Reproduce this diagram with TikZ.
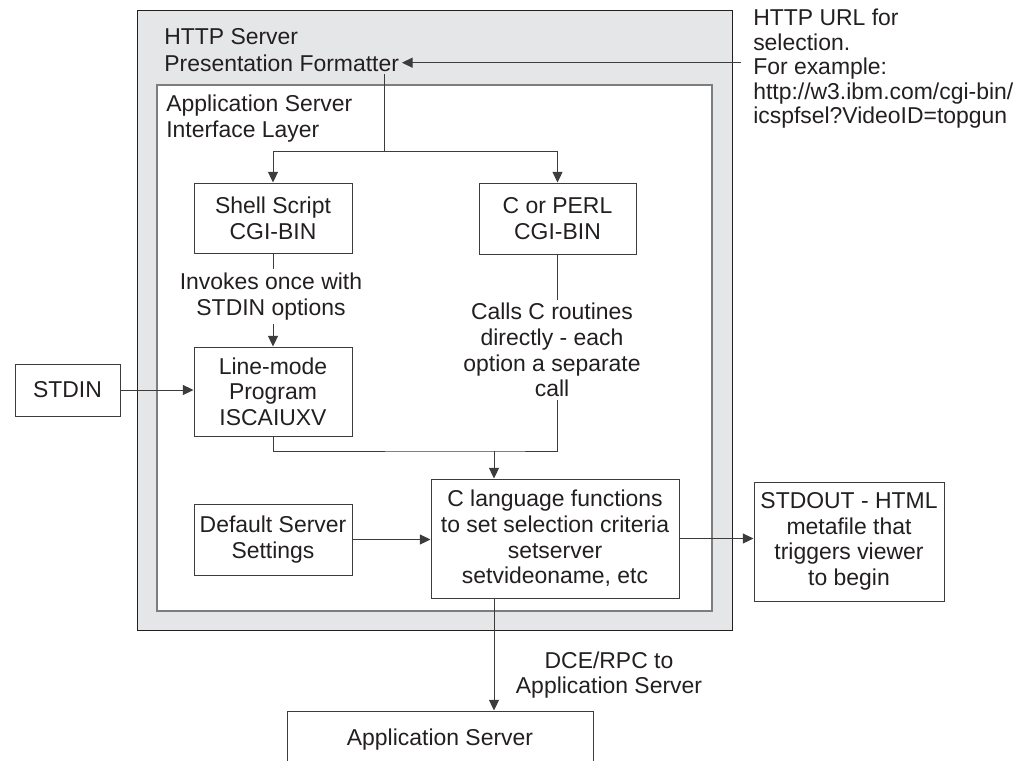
\documentclass[tikz,border=0pt]{standalone}
\usepackage{fontspec}
\setmainfont{Liberation Sans}
\usetikzlibrary{arrows.meta}

\definecolor{panelgray}{RGB}{229,230,231}
\definecolor{inkdark}{RGB}{35,31,32}
\definecolor{framegray}{RGB}{125,125,125}
\definecolor{linegray}{RGB}{60,60,60}

\tikzset{
  every node/.style={font=\fontsize{17.2}{19.2}\selectfont, text=inkdark},
  box/.style={draw=linegray, line width=0.75pt, fill=white, align=center, inner sep=2pt},
  lbl/.style={align=center, inner sep=2.5pt},
  conn/.style={draw=linegray, line width=0.75pt},
  arr/.style={conn, -{Triangle[length=8pt,width=7.5pt]}},
}

\begin{document}
\begin{tikzpicture}[x=0.75pt,y=0.75pt,yscale=-1,xscale=1]
\clip (0,0) rectangle (1027,760);

%Shape: outer server panel
\draw [draw=inkdark, line width=0.65pt, fill=panelgray] (137,10) rectangle (732,630);
%Shape: interface layer panel
\draw [draw=framegray, line width=1.1pt, fill=white] (157,85) rectangle (712,611);

% Text Node
\node [anchor=base west, inner sep=0pt] (httpsrv) at (164,44) {HTTP Server};
% Text Node
\node [anchor=base west, inner sep=2pt, text depth=0pt] (formatter) at (161.5,71) {Presentation Formatter};
% Text Node
\node [anchor=north west, inner sep=0pt, align=left, font=\fontsize{17.2}{18.4}\selectfont] (urltext) at (753,9) {HTTP URL for\\selection.\\For example:\\http://w3.ibm.com/cgi-bin/\\icspfsel?VideoID=topgun};
% Text Node
\node [anchor=north west, inner sep=0pt, align=left] (aslayer) at (166,95) {Application Server\\Interface Layer};

%Boxes
\node [box, minimum width=118.5pt, minimum height=52.5pt] (shell) at (273,218) {Shell Script\\CGI-BIN};
\node [box, minimum width=117.75pt, minimum height=53.25pt] (perl) at (557.5,218.5) {C or PERL\\CGI-BIN};
\node [box, minimum width=118.5pt, minimum height=66.75pt] (linemode) at (273,391.5) {Line-mode\\Program\\ISCAIUXV};
\node [box, minimum width=78.75pt, minimum height=39pt] (stdin) at (67.5,390) {STDIN};
\node [box, minimum width=118.5pt, minimum height=53.25pt] (defaults) at (273,539.5) {Default Server\\Settings};
\node [box, minimum width=186pt, minimum height=89.25pt] (cfuncs) at (555,538.5) {C language functions\\to set selection criteria\\setserver\\setvideoname, etc};
\node [box, minimum width=142.5pt, minimum height=89.25pt] (stdout) at (849,541.5) {STDOUT - HTML\\metafile that\\triggers viewer\\to begin};
\node [box, minimum width=229.5pt, minimum height=43.5pt] (appserver) at (440,740) {Application Server};

%Labels on the connectors
\node [lbl] (invokes) at (271,296.5) {Invokes once with\\STDIN options};
\node [lbl] (calls) at (552,350) {Calls C routines\\directly - each\\option a separate\\call};
\node [lbl] (dcerpc) at (609,675) {DCE/RPC to\\Application Server};

\coordinate (urlend) at (741,62);
\coordinate (split) at (384,151);
\coordinate (merge) at (494,451);

%Connectors
\draw [arr] (formatter.east -| urlend) -- (formatter.east);
\draw [conn] (split |- formatter.south) -- (split);
\draw [arr] (split) -| (shell.north);
\draw [arr] (split) -| (perl.north);
\draw [conn] (shell.south) -- (shell.south |- invokes.north);
\draw [arr] (linemode.north |- invokes.south) -- (linemode.north);
\draw [conn] (perl.south) -- (perl.south |- calls.north);
\draw [conn] (linemode.south) |- (merge) -| (perl.south |- calls.south);
\draw [arr] (merge) -- (merge |- cfuncs.north);
\draw [arr] (stdin.east) -- (stdin.east -| linemode.west);
\draw [arr] (defaults.east) -- (defaults.east -| cfuncs.west);
\draw [arr] (cfuncs.east) -- (cfuncs.east -| stdout.west);
\draw [arr] (merge |- cfuncs.south) -- (merge |- appserver.north);

\end{tikzpicture}
\end{document}
